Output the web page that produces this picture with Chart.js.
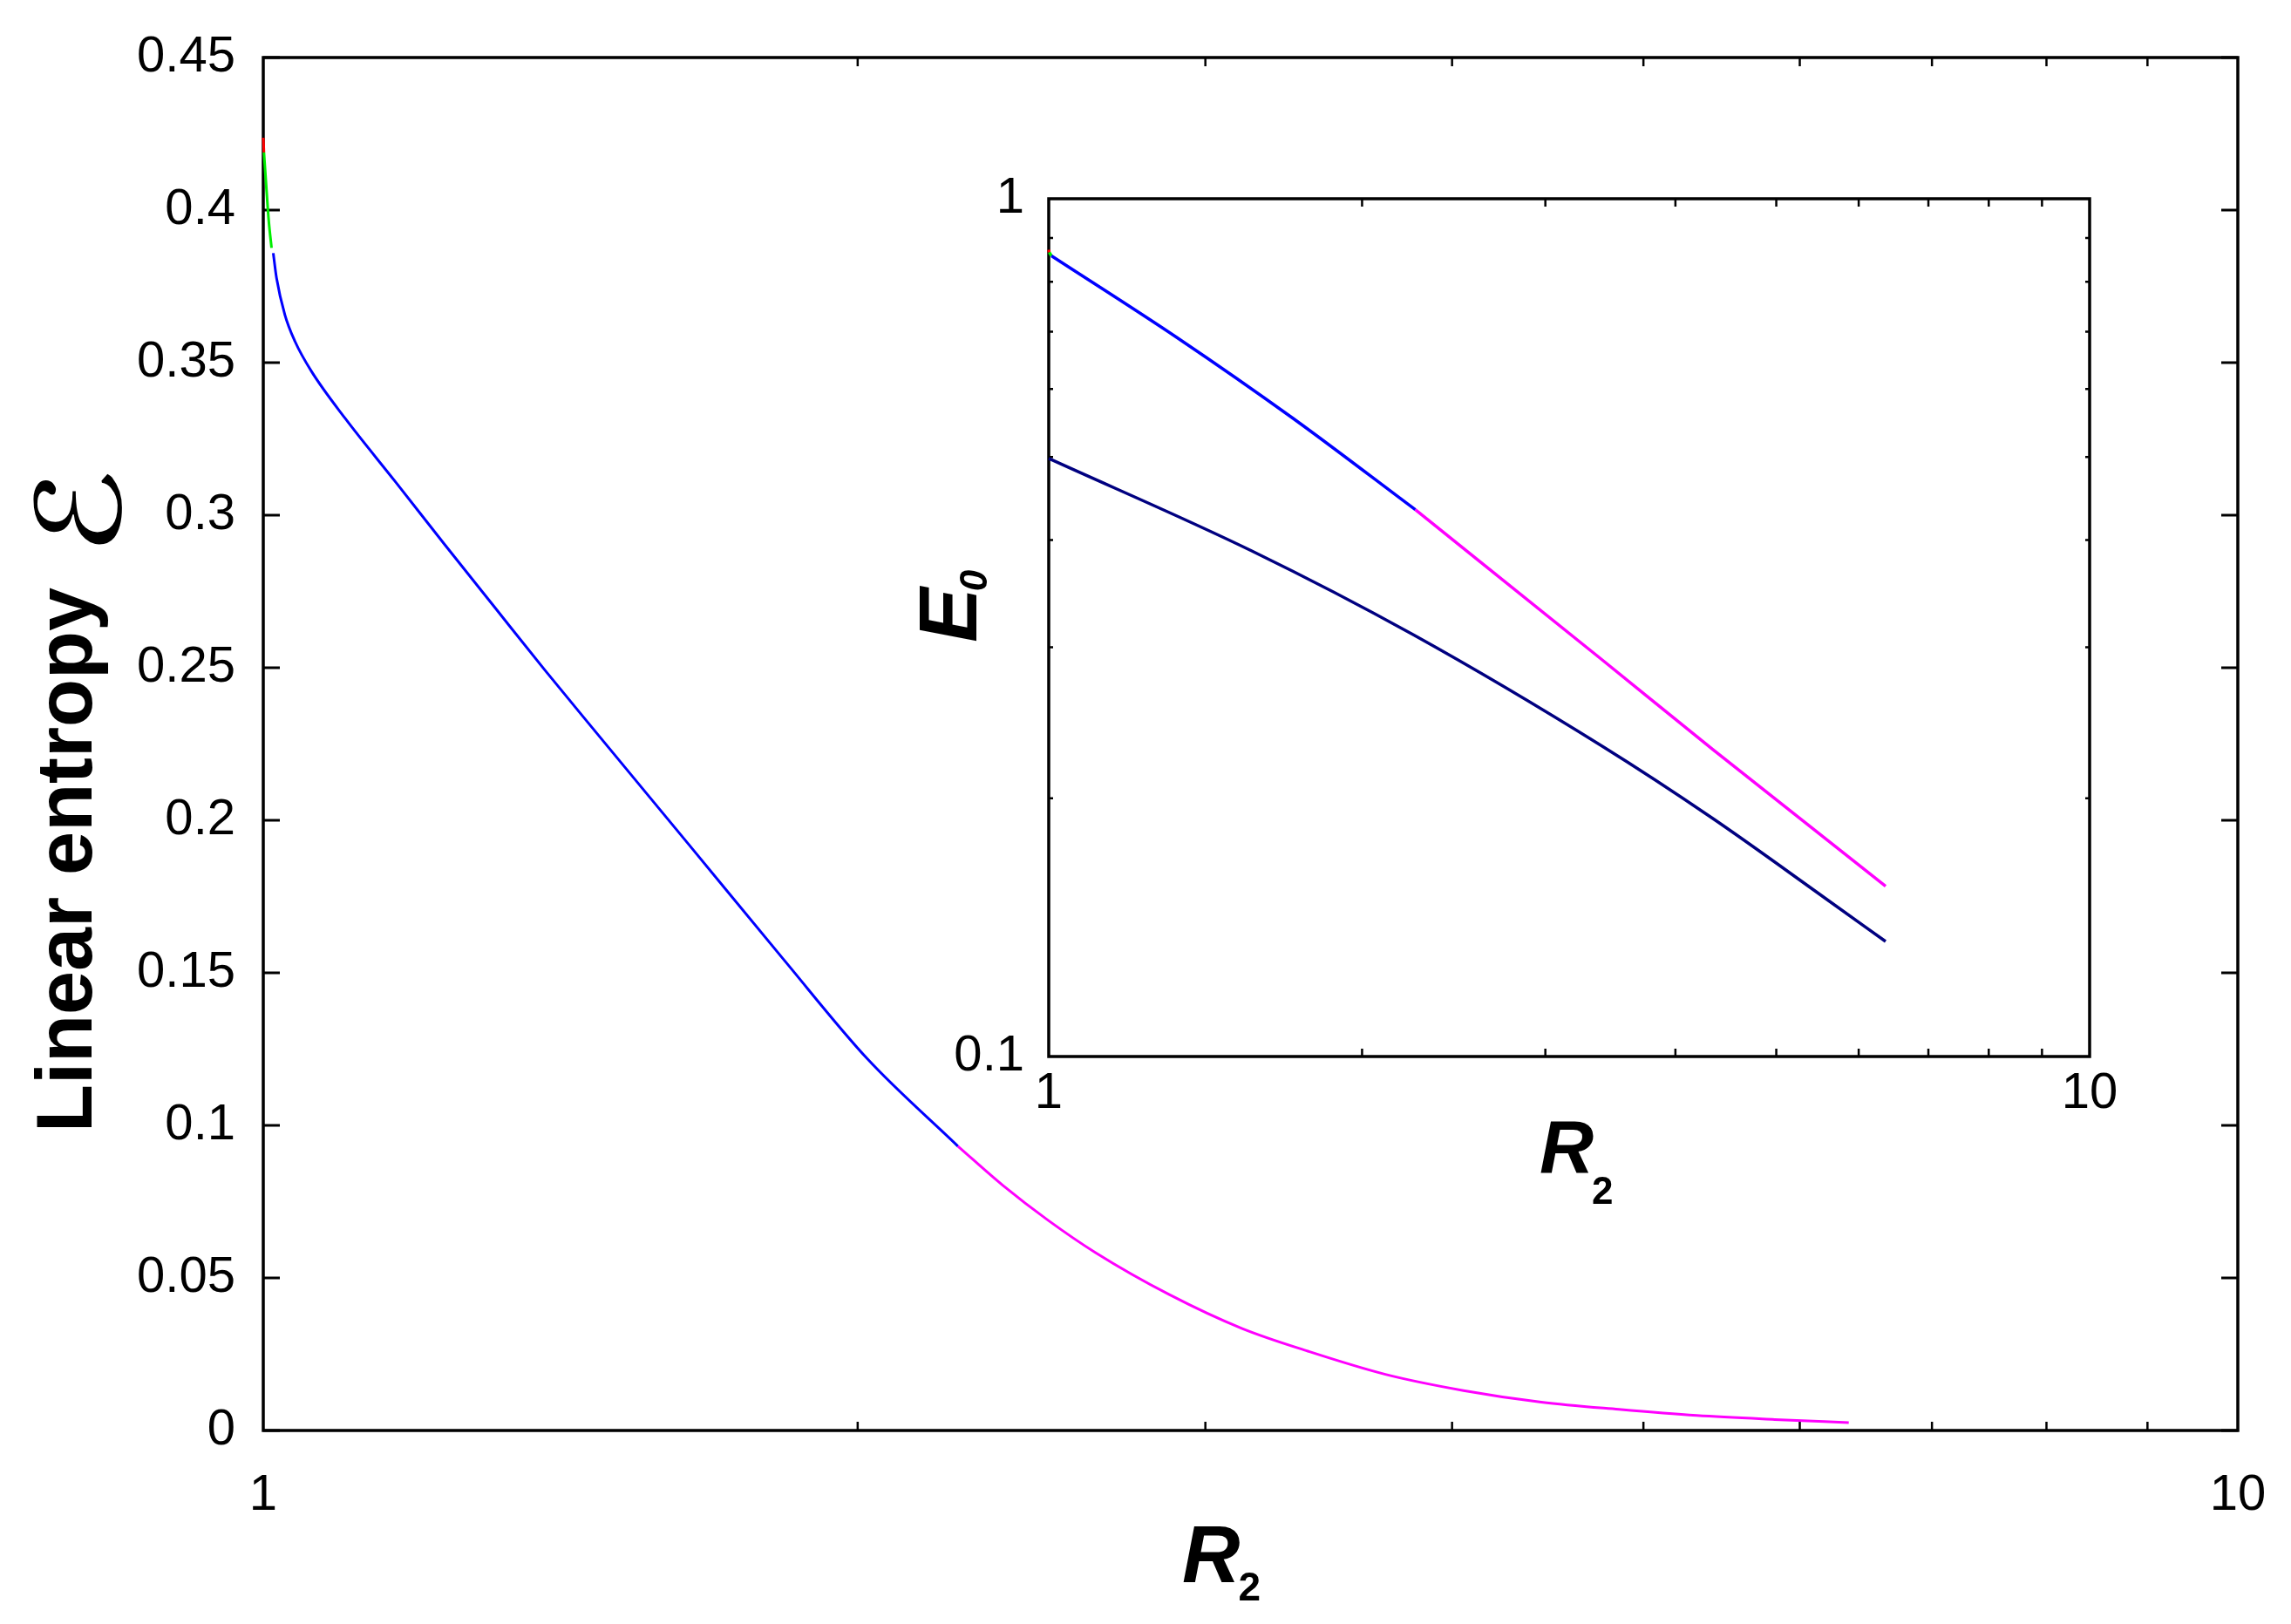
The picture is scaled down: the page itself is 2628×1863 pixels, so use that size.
<!DOCTYPE html>
<html>
<head>
<meta charset="utf-8">
<script src="https://cdn.jsdelivr.net/npm/chart.js@4.4.1/dist/chart.umd.min.js"></script>
<style>
  html, body { margin: 0; padding: 0; background: #ffffff; }
  #wrap { position: relative; width: 2628px; height: 1863px; background: #ffffff; }
  #mainChart { position: absolute; left: 0; top: 0; }
  #insetChart { position: absolute; left: 1000px; top: 180px; }
</style>
</head>
<body>
<div id="wrap">
  <canvas id="mainChart" width="2628" height="1863"></canvas>
  <canvas id="insetChart" width="1440" height="1240"></canvas>
</div>
<script>
// ---------- main panel: linear entropy vs R2 ----------
const mainRedR = [1.0, 1.0008];
const mainRedE = [0.4237, 0.4189];
const mainGreenR = [1.0008, 1.003, 1.0064, 1.0097];
const mainGreenE = [0.4189, 0.4098, 0.3965, 0.3876];
const mainBlueR = [1.0117, 1.0156, 1.0255, 1.0376, 1.0579, 1.100, 1.1661, 1.2359, 1.3102, 1.3892, 1.4729, 1.6423, 1.836, 2.0235, 2.2478];
const mainBlueE = [0.3859, 0.3777, 0.3657, 0.3570, 0.3471, 0.3318, 0.3111, 0.2903, 0.2697, 0.2491, 0.2291, 0.1921, 0.1541, 0.1217, 0.0932];
const mainMagentaR = [2.2478, 2.3683, 2.4973, 2.6392, 2.8753, 3.1318, 3.3808, 3.7007, 4.0536, 4.4386, 4.8594, 5.3205, 5.8272, 6.3527];
const mainMagentaE = [0.0932, 0.0804, 0.0689, 0.0583, 0.0446, 0.0334, 0.0260, 0.0184, 0.0131, 0.0093, 0.0069, 0.0049, 0.0036, 0.0026];

const mainXTicks = [1, 10];
const mainYTicks = [0, 0.05, 0.1, 0.15, 0.2, 0.25, 0.3, 0.35, 0.4, 0.45];
const logMinorTicks = [2, 3, 4, 5, 6, 7, 8, 9];

// ---------- inset: E0 vs R2 (log-log) ----------
const insetRedR = [1.0, 1.001];
const insetRedE = [0.872, 0.866];
const insetGreenR = [1.001, 1.006];
const insetGreenE = [0.866, 0.858];
const insetBlueR = [1.006, 1.328, 1.716, 2.25];
const insetBlueE = [0.858, 0.689, 0.5548, 0.434];
const insetMagentaR = [2.25, 3.402, 4.346, 6.368];
const insetMagentaE = [0.434, 0.290, 0.228, 0.158];
const insetNavyR = [1.0, 1.567, 2.239, 3.402, 4.346, 5.565, 6.368];
const insetNavyE = [0.498, 0.3885, 0.3103, 0.230, 0.1894, 0.1531, 0.1362];

const insetXTicks = [1, 10];
const insetYTicks = [0.1, 1];
const insetYMinorTicks = [0.2, 0.3, 0.4, 0.5, 0.6, 0.7, 0.8, 0.9];

// ---------- helpers ----------
const FONT = '"Liberation Sans", Arial, sans-serif';
Chart.defaults.font.family = FONT;
Chart.defaults.color = '#000000';

function pts(xs, ys) { return xs.map((x, i) => ({ x: x, y: ys[i] })); }
function seg(xs, ys, color, w) {
  return {
    data: pts(xs, ys), borderColor: color, backgroundColor: color,
    borderWidth: w, pointRadius: 0, pointHoverRadius: 0, showLine: true,
    fill: false, cubicInterpolationMode: 'monotone', clip: false
  };
}
function fmt(v) { return String(+Number(v).toFixed(2)); }
function fixSize(prop, val) {
  return s => {
    s[prop] = val;
    s.paddingLeft = 0; s.paddingRight = 0; s.paddingTop = 0; s.paddingBottom = 0;
  };
}

// ---------- main chart ----------
const mainPlugin = {
  id: 'mainFrame',
  beforeDatasetsDraw(chart) {
    const { ctx, chartArea: a, scales } = chart;
    const x = scales.x, y = scales.y;
    ctx.save();
    ctx.strokeStyle = '#000';
    ctx.lineWidth = 3;
    ctx.beginPath();
    mainYTicks.forEach(v => {
      const py = y.getPixelForValue(v);
      ctx.moveTo(a.left, py); ctx.lineTo(a.left + 19, py);
      ctx.moveTo(a.right, py); ctx.lineTo(a.right - 19, py);
    });
    ctx.stroke();
    ctx.lineWidth = 2.5;
    ctx.beginPath();
    logMinorTicks.forEach(v => {
      const px = x.getPixelForValue(v);
      ctx.moveTo(px, a.bottom); ctx.lineTo(px, a.bottom - 10);
      ctx.moveTo(px, a.top); ctx.lineTo(px, a.top + 10);
    });
    ctx.stroke();
    ctx.lineWidth = 3.5;
    ctx.strokeRect(a.left, a.top, a.right - a.left, a.bottom - a.top);
    ctx.restore();
  },
  afterDraw(chart) {
    const ctx = chart.ctx;
    ctx.save();
    ctx.fillStyle = '#000';
    // y title text
    ctx.save();
    ctx.translate(105, 1299);
    ctx.rotate(-Math.PI / 2);
    ctx.font = 'bold 90px ' + FONT;
    ctx.textAlign = 'left';
    ctx.textBaseline = 'alphabetic';
    ctx.fillText('Linear entropy', 0, 0);
    ctx.restore();
    // script E symbol, fitted to its box (screen x 38..140, y 543..625)
    ctx.save();
    ctx.font = '200px "DejaVu Serif", "DejaVu Sans", serif';
    ctx.textAlign = 'left';
    ctx.textBaseline = 'alphabetic';
    const m = ctx.measureText('\u2130');
    const gw = (m.actualBoundingBoxLeft + m.actualBoundingBoxRight) || 100;
    const gh = (m.actualBoundingBoxAscent + m.actualBoundingBoxDescent) || 100;
    const sX = 82 / gw, sY = 102 / gh;
    const ty = 625 - sX * m.actualBoundingBoxLeft;
    const tx = 38 + sY * m.actualBoundingBoxAscent;
    ctx.translate(tx, ty);
    ctx.rotate(-Math.PI / 2);
    ctx.scale(sX, sY);
    ctx.fillText('\u2130', 0, 0);
    ctx.restore();
    // x title
    ctx.font = 'italic bold 92px ' + FONT;
    ctx.textAlign = 'left';
    ctx.textBaseline = 'alphabetic';
    ctx.fillText('R', 1356, 1815);
    const rw = ctx.measureText('R').width;
    ctx.font = 'bold 46px ' + FONT;
    ctx.fillText('2', 1356 + rw - 2, 1836);
    ctx.restore();
  }
};

new Chart(document.getElementById('mainChart'), {
  type: 'scatter',
  data: {
    datasets: [
      seg(mainBlueR, mainBlueE, '#0000ff', 3),
      seg(mainMagentaR, mainMagentaE, '#ff00ff', 3),
      seg(mainGreenR, mainGreenE, '#00ee00', 3),
      seg(mainRedR, mainRedE, '#ff0000', 3)
    ]
  },
  options: {
    responsive: false,
    animation: false,
    events: [],
    layout: { padding: { left: 0, top: 66, right: 61, bottom: 0 } },
    plugins: { legend: { display: false }, tooltip: { enabled: false } },
    scales: {
      x: {
        type: 'logarithmic', min: 1, max: 10, position: 'bottom',
        grid: { display: false, drawTicks: false },
        border: { display: false },
        afterBuildTicks: s => { s.ticks = mainXTicks.map(v => ({ value: v })); },
        afterFit: fixSize('height', 222),
        ticks: {
          autoSkip: false, maxRotation: 0, padding: 40,
          font: { size: 58 }, color: '#000',
          callback: v => fmt(v)
        }
      },
      y: {
        type: 'linear', min: 0, max: 0.45, position: 'left',
        grid: { display: false, drawTicks: false },
        border: { display: false },
        afterBuildTicks: s => { s.ticks = mainYTicks.map(v => ({ value: v })); },
        afterFit: fixSize('width', 302),
        ticks: {
          autoSkip: false, padding: 32,
          font: { size: 58 }, color: '#000',
          callback: v => fmt(v)
        }
      }
    }
  },
  plugins: [mainPlugin]
});

// ---------- inset chart ----------
const OX = 1000, OY = 180;
const insetPlugin = {
  id: 'insetFrame',
  beforeDatasetsDraw(chart) {
    const { ctx, chartArea: a, scales } = chart;
    const x = scales.x, y = scales.y;
    ctx.save();
    ctx.strokeStyle = '#000';
    ctx.lineWidth = 2.5;
    ctx.beginPath();
    insetYMinorTicks.forEach(v => {
      const py = y.getPixelForValue(v);
      ctx.moveTo(a.left, py); ctx.lineTo(a.left + 5, py);
      ctx.moveTo(a.right, py); ctx.lineTo(a.right - 5, py);
    });
    logMinorTicks.forEach(v => {
      const px = x.getPixelForValue(v);
      ctx.moveTo(px, a.bottom); ctx.lineTo(px, a.bottom - 9);
      ctx.moveTo(px, a.top); ctx.lineTo(px, a.top + 9);
    });
    ctx.stroke();
    ctx.lineWidth = 3.5;
    ctx.strokeRect(a.left, a.top, a.right - a.left, a.bottom - a.top);
    ctx.restore();
  },
  afterDraw(chart) {
    const ctx = chart.ctx;
    ctx.save();
    ctx.fillStyle = '#000';
    // y title E0
    ctx.save();
    ctx.translate(1120 - OX, 737 - OY);
    ctx.rotate(-Math.PI / 2);
    ctx.font = 'italic bold 94px ' + FONT;
    ctx.textAlign = 'left';
    ctx.textBaseline = 'alphabetic';
    ctx.fillText('E', 0, 0);
    const ew = ctx.measureText('E').width;
    ctx.font = 'italic bold 44px ' + FONT;
    ctx.fillText('0', ew - 4, 12);
    ctx.restore();
    // x title R2
    ctx.font = 'italic bold 86px ' + FONT;
    ctx.textAlign = 'left';
    ctx.textBaseline = 'alphabetic';
    ctx.fillText('R', 1766 - OX, 1345 - OY);
    const rw = ctx.measureText('R').width;
    ctx.font = 'bold 44px ' + FONT;
    ctx.fillText('2', 1766 - OX + rw - 2, 1381 - OY);
    ctx.restore();
  }
};

new Chart(document.getElementById('insetChart'), {
  type: 'scatter',
  data: {
    datasets: [
      seg(insetNavyR, insetNavyE, '#000080', 3.5),
      seg(insetBlueR, insetBlueE, '#0000ff', 3.5),
      seg(insetMagentaR, insetMagentaE, '#ff00ff', 3.5),
      seg(insetGreenR, insetGreenE, '#00ee00', 3.5),
      seg(insetRedR, insetRedE, '#ff0000', 3.5)
    ]
  },
  options: {
    responsive: false,
    animation: false,
    events: [],
    layout: { padding: { left: 0, top: 48, right: 43, bottom: 0 } },
    plugins: { legend: { display: false }, tooltip: { enabled: false } },
    scales: {
      x: {
        type: 'logarithmic', min: 1, max: 10, position: 'bottom',
        grid: { display: false, drawTicks: false },
        border: { display: false },
        afterBuildTicks: s => { s.ticks = insetXTicks.map(v => ({ value: v })); },
        afterFit: fixSize('height', 208),
        ticks: {
          autoSkip: false, maxRotation: 0, padding: 8,
          font: { size: 58 }, color: '#000',
          callback: v => fmt(v)
        }
      },
      y: {
        type: 'logarithmic', min: 0.1, max: 1, position: 'left',
        grid: { display: false, drawTicks: false },
        border: { display: false },
        afterBuildTicks: s => { s.ticks = insetYTicks.map(v => ({ value: v })); },
        afterFit: fixSize('width', 203),
        ticks: {
          autoSkip: false, padding: 28,
          font: { size: 58 }, color: '#000',
          callback: v => fmt(v)
        }
      }
    }
  },
  plugins: [insetPlugin]
});
</script>
</body>
</html>
